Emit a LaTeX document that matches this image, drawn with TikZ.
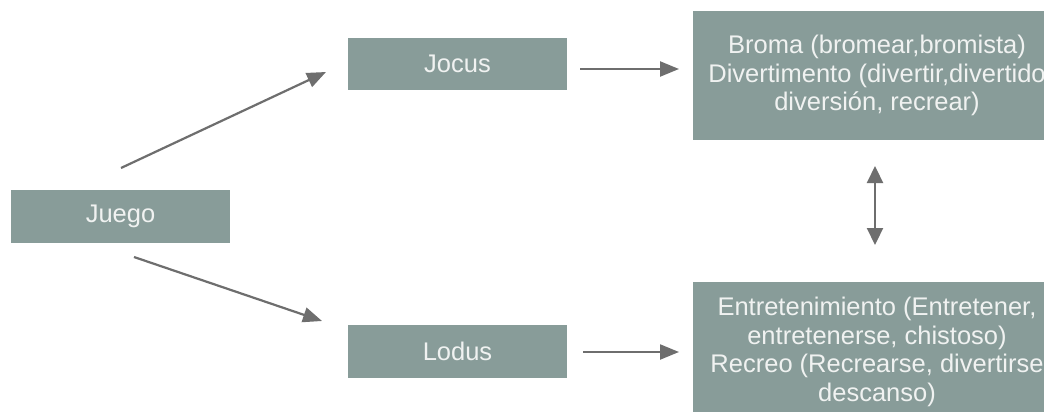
\documentclass[tikz,border=0pt]{standalone}
\usepackage{fontspec}
\setmainfont{Liberation Sans}
\usetikzlibrary{arrows.meta}
\definecolor{boxfill}{HTML}{889C99}
\definecolor{arrowgray}{HTML}{6E6E6E}
\definecolor{boxtext}{HTML}{F0F2F1}
\tikzset{
  graybox/.style={rectangle, fill=boxfill, draw=none, text=boxtext, inner sep=0pt,
    font=\fontsize{25.5}{28.5}\selectfont, align=center},
  conn/.style={draw=arrowgray, line width=2.2pt, -{Triangle[length=19pt,width=15pt]}},
  dconn/.style={draw=arrowgray, line width=2.2pt, {Triangle[length=17pt,width=16pt]}-{Triangle[length=17pt,width=16pt]}}
}
\begin{document}
\begin{tikzpicture}[x=1pt,y=-1pt]
\useasboundingbox (0,0) rectangle (1044,412);
\clip (0,0) rectangle (1044,412);
\fill[white] (0,0) rectangle (1044,412);
\node[graybox, minimum width=219pt, minimum height=53pt] (juego) at (120.5,216.5) {Juego};
\node[graybox, minimum width=219pt, minimum height=52pt] (jocus) at (457.5,64) {Jocus};
\node[graybox, minimum width=219pt, minimum height=53pt] (lodus) at (457.5,351.5) {Lodus};
\node[graybox, minimum width=368pt, minimum height=129pt] (broma) at (877,75.5)
  {Broma (bromear,bromista)\\Divertimento (divertir,divertido\\diversión, recrear)};
\node[graybox, minimum width=368pt, minimum height=140pt] (entre) at (877,352)
  {Entretenimiento (Entretener,\\entretenerse, chistoso)\\Recreo (Recrearse, divertirse\\descanso)};
\coordinate (s1) at (121,168);
\coordinate (e1) at (326,72);
\coordinate (s2) at (134,257);
\coordinate (e2) at (322,321);
\coordinate (s3) at (580,69);
\coordinate (e3) at (679,69);
\coordinate (s4) at (583,352);
\coordinate (e4) at (679,352);
\coordinate (s5) at (875,166);
\coordinate (e5) at (875,245);
\draw[conn] (s1) -- (e1);
\draw[conn] (s2) -- (e2);
\draw[conn] (s3) -- (e3);
\draw[conn] (s4) -- (e4);
\draw[dconn] (s5) -- (e5);
\end{tikzpicture}
\end{document}
